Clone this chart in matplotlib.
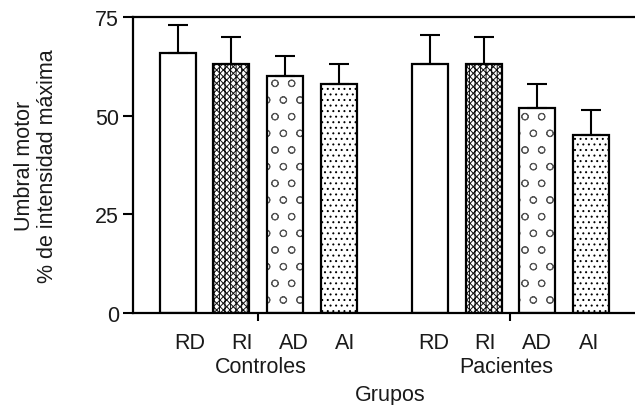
import matplotlib
matplotlib.use("Agg")
import matplotlib.pyplot as plt
import numpy as np

plt.rcParams['font.family'] = ['Liberation Sans', 'DejaVu Sans']
plt.rcParams['hatch.linewidth'] = 0.7

groups = ["Controles", "Pacientes"]
conditions = ["RD", "RI", "AD", "AI"]
controles_vals = [66, 63, 60, 58]
controles_err = [7, 7, 5, 5]
pacientes_vals = [63, 63, 52, 45]
pacientes_err = [7.5, 7, 6, 6.5]
yticks = [0, 25, 50, 75]

hatches = [None, "xxxxx|||", "o", "..."]
hatch_colors = ["black", "#111111", "#555555", "black"]
text_color = "#1a1a1a"
fs = 15.5

fig = plt.figure(figsize=(6.35, 4.06), dpi=100)
ax = fig.add_axes([133/635, 1-314/406, 1-133/635, (314-18)/406])

group_offset = [0.0, 4.7]
all_vals = [controles_vals, pacientes_vals]
all_err = [controles_err, pacientes_err]
width = 0.67

for g, (vals, errs) in enumerate(zip(all_vals, all_err)):
    pos = np.arange(len(conditions)) + group_offset[g]
    for i, (p, v, e) in enumerate(zip(pos, vals, errs)):
        ax.bar(p, v, width=width, color="white", edgecolor=hatch_colors[i],
               linewidth=0, hatch=hatches[i], zorder=2)
        ax.bar(p, v, width=width, fill=False, edgecolor="black",
               linewidth=1.6, zorder=2.5)
        ax.errorbar(p, v, yerr=[[0], [e]], fmt="none", ecolor="black",
                    elinewidth=1.5, capsize=7, capthick=1.5, zorder=3)
        ax.text(p * 0.965 + 0.23, -0.098, conditions[i],
                transform=ax.get_xaxis_transform(), ha="center", va="center",
                fontsize=fs, color=text_color)
    ax.text(pos.mean() + (0.05 if g == 0 else -0.07), -0.182, groups[g],
            transform=ax.get_xaxis_transform(), ha="center", va="center",
            fontsize=fs, color=text_color)

ax.text(3.96, -0.274, "Grupos", transform=ax.get_xaxis_transform(),
        ha="center", va="center", fontsize=fs, color=text_color)

ax.set_xlim(-0.83, 8.52)
ax.set_ylim(0, 75)
ax.set_yticks(yticks)
ax.set_yticklabels([str(t) for t in yticks], fontsize=fs, color=text_color)
ax.set_xticks([1.5, 4.7 + 1.5])
ax.set_xticklabels([])
ax.tick_params(axis="y", direction="out", length=7, width=1.5, pad=3)
ax.tick_params(axis="x", direction="out", length=6, width=1.5)

for s in ["left", "bottom", "top"]:
    ax.spines[s].set_linewidth(1.6)
ax.spines["right"].set_visible(False)

ax.set_ylabel("Umbral motor\n% de intensidad máxima", fontsize=fs,
              color=text_color, linespacing=1.1)
ax.yaxis.set_label_coords(-0.15, 0.5)

fig.savefig("out.png", dpi=100)
